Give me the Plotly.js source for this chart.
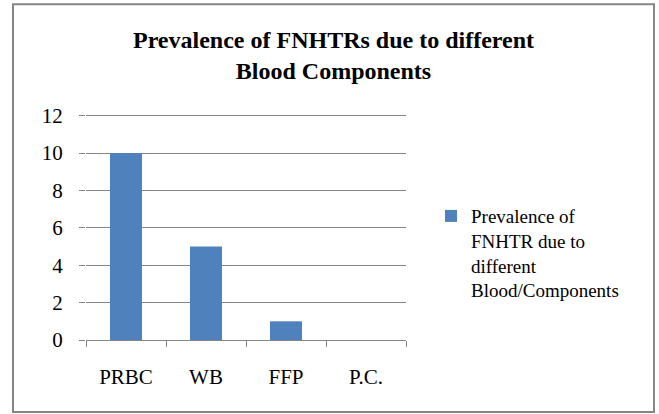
<!DOCTYPE html>
<html>
<head>
<meta charset="utf-8">
<script src="https://cdn.plot.ly/plotly-3.0.1.min.js"></script>
<style>
.main-svg text { font-family: "Liberation Serif", "Times New Roman", "DejaVu Serif", serif !important; }
</style>
</head>
<body style="margin:0">
<div id="chart" style="width:659px;height:414px"></div>
<script>
var categories = ["PRBC", "WB", "FFP", "P.C."];
var values = [10, 5, 1, 0];
var seriesName = "Prevalence of<br>FNHTR due to<br>different<br>Blood/Components";
var yTicks = [0, 2, 4, 6, 8, 10, 12];
var titleText = "<b>Prevalence of FNHTRs due to different<br>Blood Components</b>";

(function () {
  var cw = 659, ch = 414;
  var yMax = 12.3;
  var left = 86, right = 406, bottom = 340;
  var top = bottom - 224.5 * yMax / 12;
  function toPx(x) { return (x - left) / (right - left); }
  function toPy(y) { return (bottom - y) / (bottom - top); }
  var fam = "Liberation Serif, Times New Roman, DejaVu Serif, serif";
  var gray = "#868686";

  var trace = {
    type: "bar",
    x: categories,
    y: values,
    name: seriesName,
    marker: {color: "#4f81bd"},
    showlegend: true
  };

  var layout = {
    width: cw, height: ch,
    margin: {l: left, r: cw - right, t: top, b: ch - bottom, pad: 0},
    paper_bgcolor: "#ffffff",
    plot_bgcolor: "#ffffff",
    bargap: 0.6,
    font: {family: fam, size: 21, color: "#000000"},
    title: {
      text: titleText,
      font: {family: fam, size: 24, color: "#000000"},
      x: toPx(333.5), xref: "paper", xanchor: "center",
      y: 1 - 48 / ch, yref: "container", yanchor: "top"
    },
    xaxis: {
      type: "category",
      showgrid: false,
      showline: true,
      linecolor: gray,
      linewidth: 1,
      ticks: "outside",
      tickson: "boundaries",
      ticklen: 6,
      tickcolor: gray,
      tickfont: {family: fam, size: 21, color: "#000000"},
      ticklabelstandoff: 18,
      zeroline: false
    },
    yaxis: {
      range: [0, yMax],
      tickvals: yTicks,
      ticktext: yTicks.map(String),
      showgrid: true,
      gridcolor: gray,
      gridwidth: 1,
      showline: false,
      ticks: "outside",
      ticklen: 6,
      tickcolor: gray,
      tickfont: {family: fam, size: 21, color: "#000000"},
      ticklabelstandoff: 12,
      zeroline: false
    },
    legend: {
      x: toPx(431), y: toPy(197),
      xanchor: "left", yanchor: "top",
      valign: "top",
      font: {family: fam, size: 19, color: "#000000"},
      bgcolor: "rgba(0,0,0,0)",
      itemwidth: 30
    },
    shapes: [{
      type: "rect", xref: "paper", yref: "paper",
      x0: toPx(13), x1: toPx(654), y0: toPy(412), y1: toPy(4),
      line: {color: gray, width: 2},
      fillcolor: "rgba(0,0,0,0)",
      layer: "below"
    }]
  };

  Plotly.newPlot("chart", [trace], layout, {staticPlot: true});
})();
</script>
</body>
</html>
